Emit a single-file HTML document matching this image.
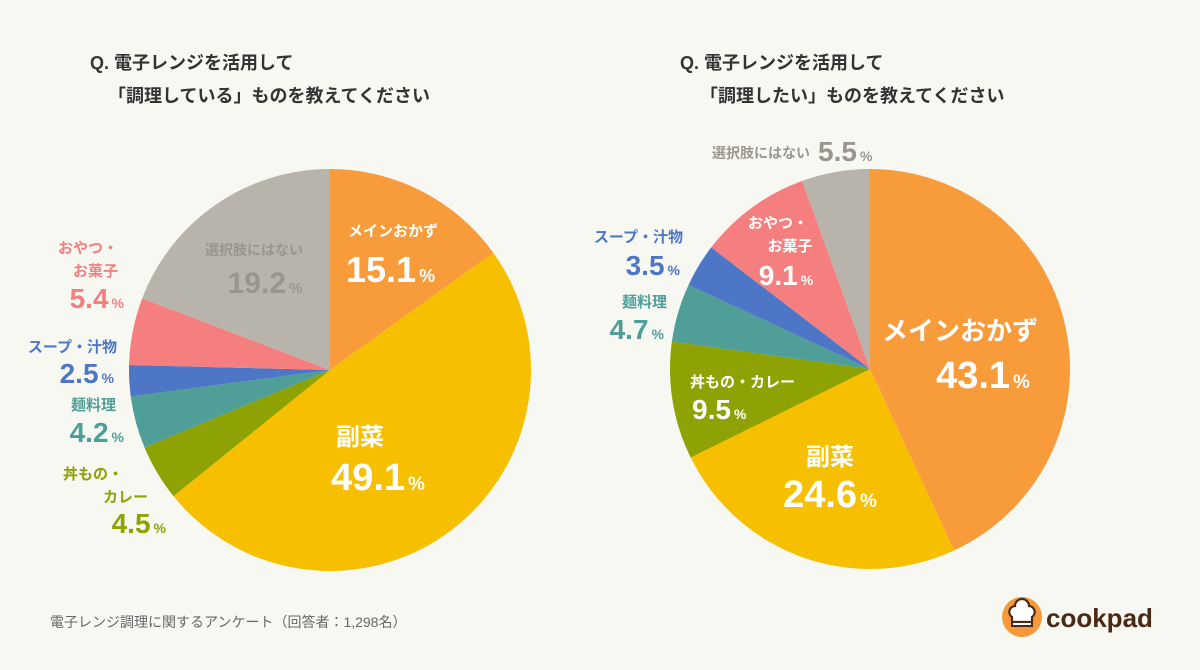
<!DOCTYPE html>
<html><head><meta charset="utf-8"><style>
body{margin:0;background:#F8F8F3;}
svg{display:block;font-family:"Liberation Sans","Noto Sans CJK JP",sans-serif;font-weight:bold;}
</style></head><body>
<svg id="c" width="1200" height="670" viewBox="0 0 1200 670">
<rect width="1200" height="670" fill="#F8F8F3"/>
<g id="p1"></g>
<g id="p2"></g>
<text x="90" y="69" font-size="18" fill="#333">Q. 電子レンジを活用して</text>
<text x="108" y="102" font-size="18" fill="#333">「調理している」ものを教えてください</text>
<text x="680" y="69" font-size="18" fill="#333">Q. 電子レンジを活用して</text>
<text x="700" y="102" font-size="18" fill="#333">「調理したい」ものを教えてください</text>
<text x="50" y="627" font-size="14" font-weight="normal" fill="#666">電子レンジ調理に関するアンケート（回答者：1,298名）</text>
<g>
<circle cx="1022" cy="617" r="20" fill="#F5993A"/>
<path d="M1012 622 v-5 a6 6 0 0 1 3-11 a7 7 0 0 1 14 0 a6 6 0 0 1 3 11 v5z" fill="#fff" stroke="#4a2a14" stroke-width="2.2"/>
<rect x="1012" y="622" width="20" height="4" fill="#fff" stroke="#4a2a14" stroke-width="2"/>
<text x="1046" y="627" font-size="26" fill="#4a2a14">cookpad</text>
</g>
<g id="lbl"></g>
</svg>
<script>
const categories=["メインおかず","副菜","丼もの・カレー","麺料理","スープ・汁物","おやつ・お菓子","選択肢にはない"];
const valuesLeft=[15.1,49.1,4.5,4.2,2.5,5.4,19.2];
const valuesRight=[43.1,24.6,9.5,4.7,3.5,9.1,5.5];
const colors=["#F89B3A","#F6BF00","#8EA203","#4F9E97","#4E76C6","#F57F7E","#B8B4AB"];
const NS="http://www.w3.org/2000/svg";
function drawPie(g,vals,cx,cy,r){
  const tot=vals.reduce((a,b)=>a+b,0);let a0=0;
  vals.forEach((v,i)=>{
    const a1=a0+v/tot*2*Math.PI;
    const x0=cx+r*Math.sin(a0),y0=cy-r*Math.cos(a0),x1=cx+r*Math.sin(a1),y1=cy-r*Math.cos(a1);
    const p=document.createElementNS(NS,"path");
    p.setAttribute("d",`M${cx},${cy}L${x0},${y0}A${r},${r} 0 ${a1-a0>Math.PI?1:0} 1 ${x1},${y1}Z`);
    p.setAttribute("fill",colors[i]);
    
    
    g.appendChild(p);a0=a1;
  });
}
drawPie(document.getElementById("p1"),valuesLeft,330,370,201);
drawPie(document.getElementById("p2"),valuesRight,870,369,200);
const L=document.getElementById("lbl");
function t(x,y,s,size,col,anchor,name){
  const e=document.createElementNS(NS,"text");
  e.setAttribute("x",x);e.setAttribute("y",y);e.setAttribute("font-size",size);e.setAttribute("fill",col);e.setAttribute("text-anchor",anchor);
  e.textContent=s;
  
  
  L.appendChild(e);return e;
}
function pv(x,y,v,size,col,anchor,name){
  const e=t(x,y,"",size,col,anchor,name);
  const a=document.createElementNS(NS,"tspan");a.textContent=v.toFixed(1);e.appendChild(a);
  const b=document.createElementNS(NS,"tspan");b.textContent="%";b.setAttribute("font-size",size*0.5);b.setAttribute("dx","3");e.appendChild(b);
}
const W="#fff";
// left
t(348,236,"メインおかず",15,W,"start","label-main-left");pv(346,282,valuesLeft[0],36,W,"start","value-main-left");
t(254,255,"選択肢にはない",14,"#9b968d","middle","label-none-left");pv(265,293,valuesLeft[6],30,"#9b968d","middle","value-none-left");
t(360,445,"副菜",24,W,"middle","label-side-left");pv(378,490,valuesLeft[1],38,W,"middle","value-side-left");
t(118,253,"おやつ・",15,colors[5],"end","label-snack-left-1");t(118,276,"お菓子",15,colors[5],"end","label-snack-left-2");pv(124,308,valuesLeft[5],28,colors[5],"end","value-snack-left");
t(117,352,"スープ・汁物",15,colors[4],"end","label-soup-left");pv(114,383,valuesLeft[4],28,colors[4],"end","value-soup-left");
t(116,410,"麺料理",15,colors[3],"end","label-noodle-left");pv(124,442,valuesLeft[3],28,colors[3],"end","value-noodle-left");
t(123,479,"丼もの・",15,colors[2],"end","label-don-left-1");t(148,502,"カレー",15,colors[2],"end","label-don-left-2");pv(166,533,valuesLeft[2],28,colors[2],"end","value-don-left");
// right
t(960,340,"メインおかず",26,W,"middle","label-main-right");pv(983,388,valuesRight[0],38,W,"middle","value-main-right");
t(830,465,"副菜",24,W,"middle","label-side-right");pv(830,507,valuesRight[1],38,W,"middle","value-side-right");
t(778,228,"おやつ・",15,W,"middle","label-snack-right-1");t(790,251,"お菓子",15,W,"middle","label-snack-right-2");pv(786,285,valuesRight[5],28,W,"middle","value-snack-right");
t(690,387,"丼もの・カレー",15,W,"start","label-don-right");pv(692,419,valuesRight[2],28,W,"start","value-don-right");
t(683,242,"スープ・汁物",15,colors[4],"end","label-soup-right");pv(680,275,valuesRight[4],28,colors[4],"end","value-soup-right");
t(667,307,"麺料理",15,colors[3],"end","label-noodle-right");pv(664,339,valuesRight[3],28,colors[3],"end","value-noodle-right");
t(810,158,"選択肢にはない",14,"#9b968d","end","label-none-right");pv(818,161,valuesRight[6],28,"#9b968d","start","value-none-right");
</script>
</body></html>
